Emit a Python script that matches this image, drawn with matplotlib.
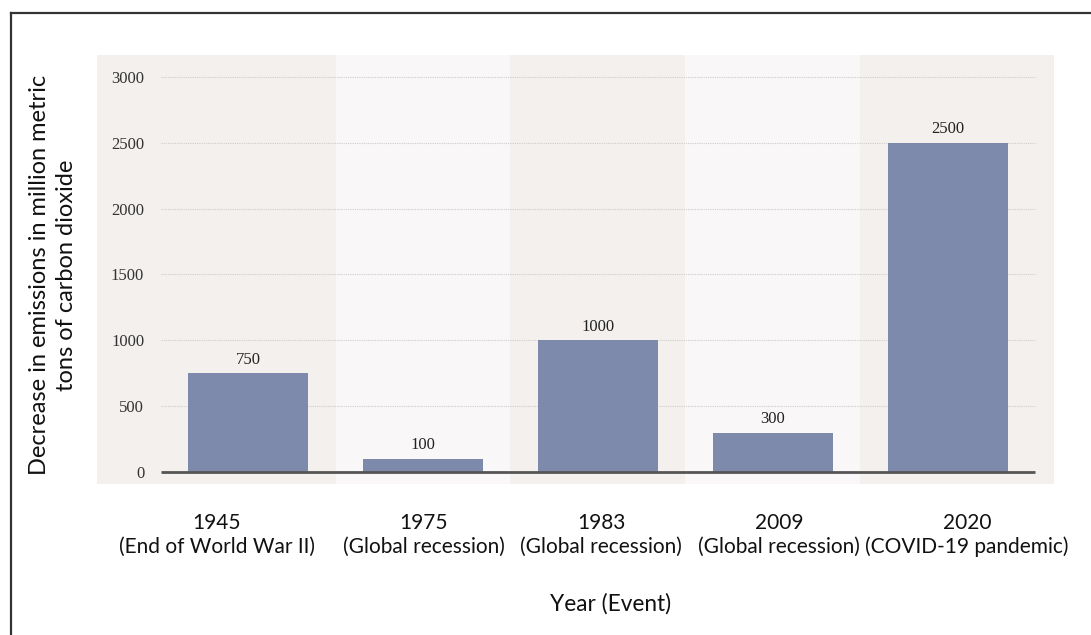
import matplotlib
matplotlib.use("Agg")
import matplotlib.pyplot as plt
from matplotlib.lines import Line2D
from matplotlib.transforms import ScaledTranslation

# Données du graphique
years = ["1945", "1975", "1983", "2009", "2020"]
events = ["End of World War II", "Global recession", "Global recession",
          "Global recession", "COVID-19 pandemic"]
decrease = [750, 100, 1000, 300, 2500]
y_ticks = [0, 500, 1000, 1500, 2000, 2500, 3000]

# décalage horizontal (px) des libellés, comme dans l'original
label_shift_px = [-31, 1, 3, 6, 19]

bar_color = "#7e8aab"
panel_color = "#f3f0ee"
band_color = "#f9f7f7"
serif = "Liberation Serif"
sans = "Lato"

fig = plt.figure(figsize=(10.91, 6.35), dpi=100)
ax = fig.add_axes([0.0889, 0.2378, 0.8772, 0.6756])
ax.set_facecolor(panel_color)

x = list(range(len(years)))

# bandes plus claires derrière les catégories impaires
for i in x:
    if i % 2 == 1:
        ax.axvspan(i - 0.5, i + 0.5, color=band_color, zorder=0, lw=0)

# grille pointillée
ax.hlines(y_ticks[1:], -0.5, len(years) - 0.5, colors="#cfcdcb",
          linestyles=(0, (1, 1)), lw=0.8, zorder=1)

bars = ax.bar(x, decrease, width=0.69, color=bar_color, zorder=2)
ax.hlines(0, -0.5, len(years) - 0.5, colors="#555555", lw=2, zorder=3)

for b, v in zip(bars, decrease):
    ax.annotate(str(v), (b.get_x() + b.get_width() / 2, v),
                xytext=(0, 4), textcoords="offset points",
                ha="center", va="bottom", fontsize=12, family=serif,
                color="#222222")

ax.set_xlim(-0.863, 4.606)
ax.set_ylim(-91, 3167)

ax.set_yticks(y_ticks)
ax.set_yticklabels([str(t) for t in y_ticks], fontsize=12, family=serif,
                   color="#333333")
ax.tick_params(axis="y", length=0, pad=-34)

ax.set_xticks(x)
ax.set_xticklabels([f"{y}\n({e})" for y, e in zip(years, events)],
                   fontsize=15, family=sans, color="#111111")
ax.tick_params(axis="x", length=0, pad=21)
for lbl, dx in zip(ax.get_xticklabels(), label_shift_px):
    lbl.set_linespacing(1.2)
    lbl.set_transform(lbl.get_transform() +
                      ScaledTranslation(dx / 100, 0, fig.dpi_scale_trans))

for s in ax.spines.values():
    s.set_visible(False)

fig.text(53 / 1091, 1 - 275 / 635,
         "Decrease in emissions in million metric\ntons of carbon dioxide",
         rotation=90, ha="center", va="center", fontsize=17, family=sans,
         color="#111111", linespacing=1.3)
fig.text(611 / 1091, 1 - 604 / 635, "Year (Event)", ha="center",
         va="center", fontsize=16.3, family=sans, color="#111111")

# cadre extérieur (haut et gauche)
fig.add_artist(Line2D([11 / 1091, 1], [1 - 13 / 635, 1 - 13 / 635],
                      color="#333333", lw=1.6))
fig.add_artist(Line2D([11 / 1091, 11 / 1091], [0, 1 - 13 / 635],
                      color="#333333", lw=1.6))

fig.savefig("out.png", dpi=100)
